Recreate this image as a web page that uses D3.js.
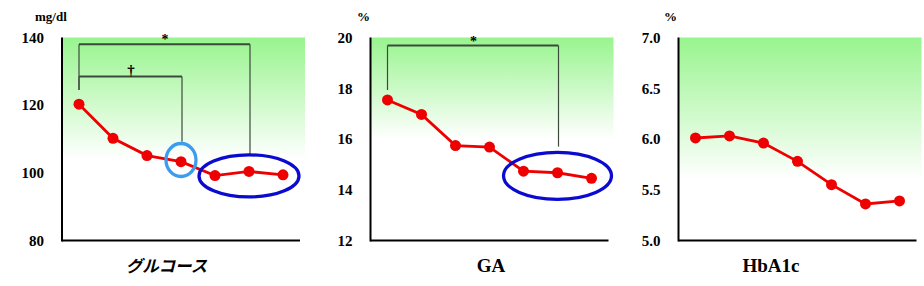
<!DOCTYPE html>
<html><head><meta charset="utf-8">
<script src="https://cdn.jsdelivr.net/npm/d3@7"></script>
<style>body{margin:0;background:#fff;}svg{display:block;}</style>
</head><body>
<svg id="c" width="924" height="286"></svg>
<script>
const categories = ["1","2","3","4","5","6","7"];
const glucose = [120.3, 110.2, 105.1, 103.3, 99.2, 100.4, 99.4];
const ga = [17.54, 16.97, 15.74, 15.68, 14.73, 14.67, 14.45];
const hba1c = [6.01, 6.03, 5.96, 5.78, 5.55, 5.36, 5.39];
const glucoseTicks = [80, 100, 120, 140];
const gaTicks = [12, 14, 16, 18, 20];
const hba1cTicks = [5.0, 5.5, 6.0, 6.5, 7.0];
const titles = ["グルコース", "GA", "HbA1c"];
const units = ["mg/dl", "%", "%"];
// significance brackets: [fromIndex, toIndex, topValue, leftEndValue, rightEndValue, label]
const glucoseBrackets = [[0, 5, 138, 124.5, 105.3, "*"], [0, 3, 128.5, 124.5, 109.2, "†"]];
const gaBrackets = [[0, 5, 19.68, 17.93, 15.7, "*"]];
// highlight ellipses: [centerIndex, centerValue, rx, ry, colour]
const glucoseRings = [[3, 103.8, 15, 16.5, "#3c9cf0"], [5, 99.1, 50, 21, "#0a0ad0"]];
const gaRings = [[5, 14.55, 54, 23.5, "#0a0ad0"]];
const greenLimit = [104, 16, 5.6];

const SERIF = "Liberation Serif";
const svg = d3.select("#c");
const defs = svg.append("defs");
const lg = defs.append("linearGradient").attr("id","g").attr("x1",0).attr("y1",0).attr("x2",0).attr("y2",1);
lg.append("stop").attr("offset","0%").attr("stop-color","#98f48e");
lg.append("stop").attr("offset","100%").attr("stop-color","#ffffff");

function serifText(sel, size) {
  return sel.style("font-family", SERIF).style("font-weight","bold").style("font-size", size + "px").attr("fill","#000");
}

const panels = [
  {left:62, data:glucose, ticks:glucoseTicks, dom:[80,140], fmt:d3.format("d"), brackets:glucoseBrackets, rings:glucoseRings, title:titles[0], titleX:166.5, unit:units[0], unitX:35, jp:true, titleSize:16.5},
  {left:370.5, data:ga, ticks:gaTicks, dom:[12,20], fmt:d3.format("d"), brackets:gaBrackets, rings:gaRings, title:titles[1], titleX:491, unit:units[1], unitX:357, jp:false, titleSize:19},
  {left:678.5, data:hba1c, ticks:hba1cTicks, dom:[5,7], fmt:d3.format(".1f"), brackets:[], rings:[], title:titles[2], titleX:771, unit:units[2], unitX:664, jp:false, titleSize:19}
];
const plotTop = 37.5, plotBottom = 240.5, W = 238;

panels.forEach((p, pi) => {
  const g = svg.append("g");
  const x = d3.scaleBand().domain(categories).range([p.left, p.left + W]);
  const y = d3.scaleLinear().domain(p.dom).range([plotBottom, plotTop]);
  const cx = i => x(categories[i]) + x.bandwidth()/2;

  // green gradient
  g.append("rect").attr("x", p.left).attr("y", y(p.dom[1]))
    .attr("width", W + 5).attr("height", y(greenLimit[pi]) - y(p.dom[1]))
    .attr("fill", "url(#g)");

  // axis tick labels
  const ax = d3.axisLeft(y).tickValues(p.ticks).tickFormat(p.fmt).tickSize(0).tickPadding(18);
  const axg = g.append("g").attr("transform", `translate(${p.left},0)`).call(ax);
  axg.select(".domain").remove();
  axg.attr("font-family", null).attr("font-size", null);
  serifText(axg.selectAll("text"), 15);

  // axes lines
  g.append("line").attr("x1",p.left).attr("x2",p.left).attr("y1",plotTop).attr("y2",plotBottom+1)
    .attr("stroke","#000").attr("stroke-width",2);
  g.append("line").attr("x1",p.left).attr("x2",p.left+W).attr("y1",plotBottom).attr("y2",plotBottom)
    .attr("stroke","#000").attr("stroke-width",2);

  // unit
  serifText(g.append("text").attr("x", p.unitX).attr("y", 21).text(p.unit), 13);

  // title
  const t = g.append("text").attr("x", p.titleX).attr("y", 272).attr("text-anchor","middle").text(p.title);
  if (p.jp) {
    t.style("font-family","Noto Sans CJK JP").style("font-weight","bold")
     .style("font-style","italic").style("font-size", p.titleSize + "px");
  } else {
    serifText(t, p.titleSize);
  }

  // brackets
  p.brackets.forEach(b => {
    const x1 = cx(b[0]), x2 = cx(b[1]) + 1;
    g.append("line").attr("x1",x1).attr("x2",x2).attr("y1",y(b[2])).attr("y2",y(b[2]))
      .attr("stroke","#3c4a3c").attr("stroke-width",2);
    g.append("line").attr("x1",x1).attr("x2",x1).attr("y1",y(b[2])).attr("y2",y(b[3]))
      .attr("stroke","#3c4a3c").attr("stroke-width",1.2);
    g.append("line").attr("x1",x2).attr("x2",x2).attr("y1",y(b[2])).attr("y2",y(b[4]))
      .attr("stroke","#3c4a3c").attr("stroke-width",1.2);
    serifText(g.append("text").attr("x",(x1+x2)/2 + 0.5).attr("y", y(b[2]) - (b[5]==="*" ? 0 : 1.5))
      .attr("text-anchor","middle").text(b[5]), b[5]==="*" ? 14 : 15);
  });

  // line + points
  const line = d3.line().x((d,i)=>cx(i)).y(d=>y(d));
  g.append("path").datum(p.data).attr("d", line).attr("fill","none")
    .attr("stroke","#ee0000").attr("stroke-width",2.8);
  g.selectAll("circle.pt").data(p.data).join("circle").attr("class","pt")
    .attr("cx",(d,i)=>cx(i)).attr("cy",d=>y(d)).attr("r",5.5).attr("fill","#ee0000");

  // rings
  p.rings.forEach(r => {
    g.append("ellipse").attr("cx", cx(r[0])).attr("cy", y(r[1])).attr("rx", r[2]).attr("ry", r[3])
      .attr("fill","none").attr("stroke", r[4]).attr("stroke-width", 3.3);
  });
});
</script>
</body></html>
